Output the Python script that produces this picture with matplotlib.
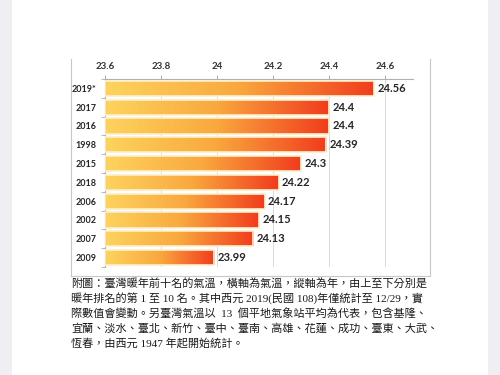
import numpy as np
import matplotlib
matplotlib.use('Agg')
from matplotlib import pyplot as plt
from matplotlib.colors import LinearSegmentedColormap
from matplotlib.lines import Line2D
from matplotlib.patches import Rectangle

# datos del gráfico
years = ['2019*', '2017', '2016', '1998', '2015', '2018', '2006', '2002', '2007', '2009']
temps = [24.56, 24.4, 24.4, 24.39, 24.3, 24.22, 24.17, 24.15, 24.13, 23.99]
xticks = [23.6, 23.8, 24.0, 24.2, 24.4, 24.6]
xtick_labels = ['23.6', '23.8', '24', '24.2', '24.4', '24.6']
caption = [
    '附圖：臺灣暖年前十名的氣溫，橫軸為氣溫，縱軸為年，由上至下分別是',
    '暖年排名的第 1 至 10 名。其中西元 2019(民國 108)年僅統計至 12/29，實',
    '際數值會變動。另臺灣氣溫以  13  個平地氣象站平均為代表，包含基隆、',
    '宜蘭、淡水、臺北、新竹、臺中、臺南、高雄、花蓮、成功、臺東、大武、',
    '恆春，由西元 1947 年起開始統計。',
]

W, H = 500, 375
fig = plt.figure(figsize=(W / 100, H / 100), dpi=100)
fig.patch.set_facecolor('white')


def px(x, y):
    return x / W, 1 - y / H


# márgenes grises de la captura
fig.add_artist(Rectangle((0, 0), 12 / W, 1, transform=fig.transFigure, color='#efeff3', lw=0))
fig.add_artist(Rectangle((488 / W, 0), 12 / W, 1, transform=fig.transFigure, color='#efeff3', lw=0))

# marco del gráfico
for (x0, y0), (x1, y1) in [((71, 59), (71, 276)), ((71, 276), (430, 276)), ((430, 59), (430, 276))]:
    a, b = px(x0, y0)
    c, d = px(x1, y1)
    fig.add_artist(Line2D([a, c], [b, d], transform=fig.transFigure, color='#c8c8c8', lw=0.8))

ax = fig.add_axes([105 / W, 1 - 267 / H, (413 - 105) / W, (267 - 79) / H])

cmap = LinearSegmentedColormap.from_list('calor', ['#fdd35e', '#f9a83e', '#f13c1d'])
grad = np.linspace(0, 1, 256).reshape(1, -1)

pos = np.arange(len(years))
h = 0.8
bars = ax.barh(pos, [t - 23.6 for t in temps], left=23.6, height=h,
               facecolor='none', edgecolor='#fdefc9', linewidth=1.2, zorder=3)
for bar, p, t in zip(bars, pos, temps):
    im = ax.imshow(grad, cmap=cmap, aspect='auto', extent=(23.6, t, p + h / 2, p - h / 2),
                   zorder=2, interpolation='bilinear')
    im.set_clip_path(bar)
    ax.text(t + 0.012, p, f'{t:g}', va='center', ha='left', fontsize=8,
            fontweight='bold', family='Lato', color='#262626')

ax.set_xlim(23.6, 24.7)
ax.set_ylim(len(years) - 0.5, -0.5)

ax.xaxis.tick_top()
ax.set_xticks(xticks)
ax.set_xticklabels(xtick_labels, fontsize=7, fontweight='bold', family='Lato', color='#333333')
ax.tick_params(axis='x', length=3, color='#b0b0b0', pad=3)

ax.set_yticks(pos)
ax.set_yticklabels(years, fontsize=6.5, fontweight='bold', family='Lato', color='#262626')
ax.tick_params(axis='y', length=0, pad=6)
ax.set_yticks(np.arange(len(years) + 1) - 0.5, minor=True)
ax.tick_params(axis='y', which='minor', length=3, color='#b0b0b0')

ax.grid(axis='x', color='#dadada', lw=0.7)
ax.set_axisbelow(True)
for s in ['right', 'bottom']:
    ax.spines[s].set_visible(False)
for s in ['top', 'left']:
    ax.spines[s].set_color('#b0b0b0')
    ax.spines[s].set_linewidth(0.8)

# texto explicativo
for i, line in enumerate(caption):
    x, y = px(71, 283 + 15 * i)
    fig.text(x, y, line, ha='left', va='center', fontsize=8,
             family=['Liberation Serif', 'Noto Sans CJK TC', 'DejaVu Sans'], color='#1a1a1a')

plt.savefig('out.png', dpi=100)
